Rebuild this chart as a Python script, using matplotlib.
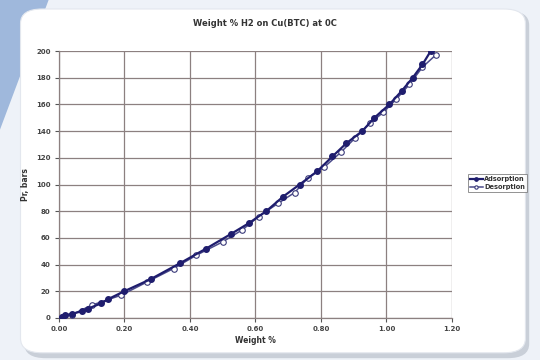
import matplotlib
matplotlib.use("Agg")
import matplotlib.pyplot as plt
from matplotlib.patches import FancyBboxPatch, Polygon

title = "Weight % H2 on Cu(BTC) at 0C"
xlabel = "Weight %"
ylabel = "Pr, bars"

ads_w = [0.01, 0.02, 0.04, 0.07, 0.09, 0.13, 0.15, 0.20, 0.28, 0.37, 0.45, 0.526,
         0.58, 0.633, 0.685, 0.735, 0.789, 0.835, 0.878, 0.926, 0.963, 1.009,
         1.046, 1.08, 1.11, 1.135]
ads_p = [1, 2, 3, 5, 7, 11, 14, 20, 29, 41, 52, 63, 71, 80, 91, 100, 110, 121,
         131, 140, 150, 160, 170, 180, 190, 200]

des_w = [0.01, 0.04, 0.10, 0.19, 0.27, 0.35, 0.42, 0.50, 0.56, 0.61, 0.67, 0.72,
         0.76, 0.81, 0.86, 0.905, 0.95, 0.99, 1.03, 1.07, 1.11, 1.15]
des_p = [0.5, 2.5, 9.5, 17, 27, 37, 47, 57, 66, 76, 86, 94, 105, 113, 124, 135,
         146, 154, 164, 175, 188, 197]

xticks = [0.0, 0.2, 0.4, 0.6, 0.8, 1.0, 1.2]
xticklabels = ["0.00", "0.20", "0.40", "0.60", "0.80", "1.00", "1.20"]
yticks = list(range(0, 201, 20))

fig = plt.figure(figsize=(5.4, 3.6), dpi=100)
fig.patch.set_facecolor("#eef2f8")

# background decoration
tri = Polygon([(0, 1), (0.09, 1), (0.0, 0.64)], closed=True, transform=fig.transFigure,
              facecolor="#9fb8dc", edgecolor="none", zorder=0)
fig.patches.append(tri)
shadow = FancyBboxPatch((0.045, 0.005), 0.935, 0.965, boxstyle="round,pad=0,rounding_size=0.04",
                        transform=fig.transFigure, facecolor="#c9cfd8", edgecolor="none", zorder=0.5)
fig.patches.append(shadow)
panel = FancyBboxPatch((0.038, 0.02), 0.935, 0.955, boxstyle="round,pad=0,rounding_size=0.04",
                       transform=fig.transFigure, facecolor="#ffffff", edgecolor="#e3e7ee",
                       linewidth=0.8, zorder=1)
fig.patches.append(panel)

ax = fig.add_axes([0.109, 0.117, 0.728, 0.741])
ax.set_facecolor("none")
ax.set_zorder(2)

navy = "#1f1d6e"
ax.plot(ads_w, ads_p, color=navy, lw=1.6, marker="o", ms=4.0, mfc=navy, mec=navy,
        label="Adsorption", zorder=4)
ax.plot(des_w, des_p, color="#4a4a8a", lw=1.1, marker="o", ms=4.0, mfc="white", mec="#3a3a7a",
        mew=0.8, label="Desorption", zorder=3)

ax.set_xlim(0, 1.2)
ax.set_ylim(0, 200)
ax.set_xticks(xticks)
ax.set_xticklabels(xticklabels)
ax.set_yticks(yticks)
ax.grid(True, color="#8c8080", lw=0.9)
for s in ["top", "right"]:
    ax.spines[s].set_visible(False)
for s in ["left", "bottom"]:
    ax.spines[s].set_color("#8c8080")
    ax.spines[s].set_linewidth(0.9)
ax.tick_params(axis="both", labelsize=5, colors="#555555", length=3, width=0.8, pad=3)
for lab in ax.get_xticklabels() + ax.get_yticklabels():
    lab.set_fontweight("bold")
    lab.set_color("#444444")

ax.set_xlabel(xlabel, fontsize=5.5, fontweight="bold", color="#333333", labelpad=3)
ax.set_ylabel(ylabel, fontsize=5.5, fontweight="bold", color="#333333", labelpad=4)
fig.text(0.49, 0.935, title, fontsize=6, fontweight="bold", color="#333333", ha="center", va="center")

leg = ax.legend(loc="center left", bbox_to_anchor=(1.04, 0.505), fontsize=4.8, frameon=True,
                fancybox=False, edgecolor="#777777", borderpad=0.3, handlelength=2.0,
                handletextpad=0.2, labelspacing=0.25, borderaxespad=0, markerscale=0.6)
leg.get_frame().set_linewidth(0.7)
for t in leg.get_texts():
    t.set_fontweight("bold")
    t.set_color("#333333")

fig.savefig("out.png", dpi=100, facecolor=fig.get_facecolor())
